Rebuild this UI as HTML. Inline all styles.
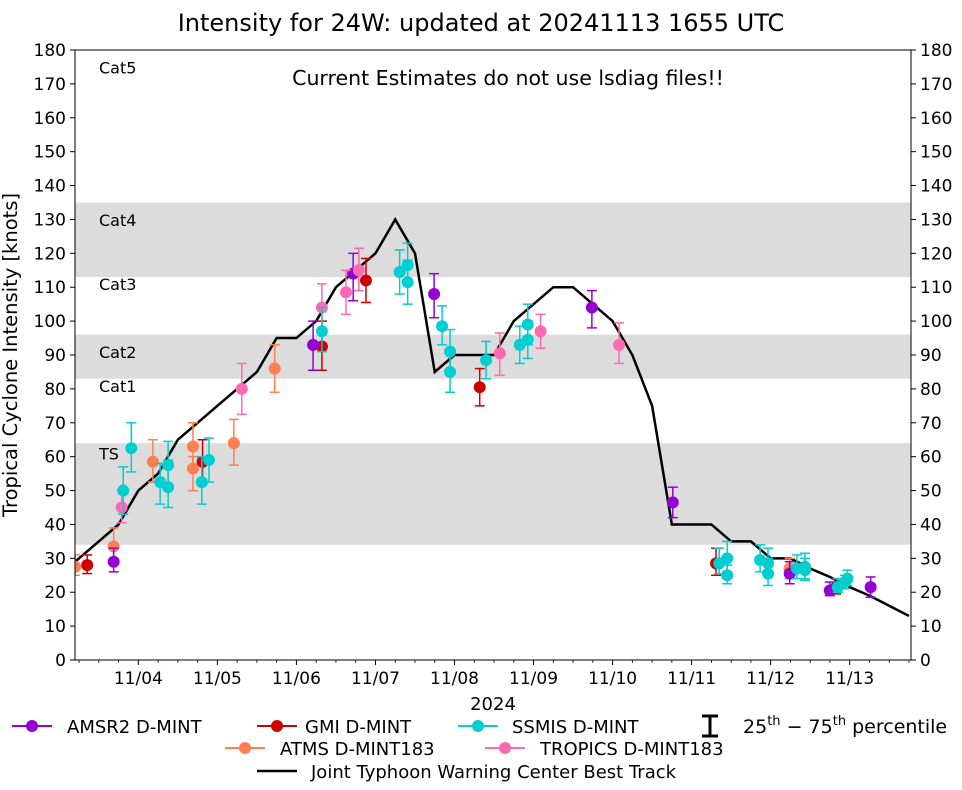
<!DOCTYPE html>
<html><head><meta charset="utf-8"><style>
body{margin:0;background:#fff;font-family:"Liberation Sans","DejaVu Sans",sans-serif}
svg text{font-family:"DejaVu Sans","Liberation Sans",sans-serif}
</style></head><body>
<svg id="chart" width="962" height="785" xmlns="http://www.w3.org/2000/svg"></svg>
<script>
const btDays=[0.0,0.25,0.75,1.0,1.25,1.5,1.75,2.0,2.25,2.5,2.75,3.0,3.25,3.5,3.75,4.0,4.25,4.5,4.75,5.0,5.25,5.5,5.75,6.0,6.25,6.5,6.75,7.0,7.25,7.5,7.75,8.0,8.25,8.5,8.75,9.0,9.25,9.5,9.75,10.0,10.25,10.5,10.75];
const btKts=[25,30,40,50,55,65,70,75,80,85,95,95,100,110,115,120,130,120,85,90,90,90,100,105,110,110,105,100,90,75,40,40,40,35,35,30,30,27,24.5,21.5,19,16,13];
const amsrDays=[0.688,3.211,3.718,4.742,6.738,7.762,9.241,9.748,10.265];
const amsrKts=[29,93,114,108,104,46.5,25.5,20.5,21.5];
const amsrLo=[26,85.5,106,101,98,42,22.5,19,18.5];
const amsrHi=[33,100,120,114,109,51,29,23,24.5];
const gmiDays=[0.353,1.813,3.323,3.880,5.319,8.309,9.829];
const gmiKts=[28,58.5,92.5,112,80.5,28.5,21.5];
const gmiLo=[25.5,52,85.5,105.5,75,25,19.5];
const gmiHi=[31,65,100,118.5,86,33,24];
const ssmisDays=[0.809,0.911,1.276,1.377,1.377,1.803,1.894,3.323,4.306,4.407,4.407,4.843,4.944,4.944,5.400,5.826,5.927,5.927,8.349,8.450,8.450,8.866,8.967,8.967,9.332,9.434,9.434,9.849,9.940,9.971];
const ssmisKts=[50,62.5,52.5,57.5,51,52.5,59,97,114.5,116.5,111.5,98.5,91,85,88.5,93,94.5,99,28.5,30,25,29.5,28.5,25.5,27,26.5,27.5,21.5,23,24];
const ssmisLo=[43,55.5,46,51.5,45,46,52.5,91,108,111,105,93,85,79,83,87.5,89,93,25.5,26,22.5,26,25,22,24,23.5,24,20,21,22];
const ssmisHi=[57,70,58,64.5,59,60,65.5,104,121,123,118,104.5,97.5,91,94,98.5,100,105,33,35,28,34,33,30,31,30,31.5,24,25,26.5];
const atmsDays=[0.201,0.688,1.184,1.691,1.691,2.208,2.725,9.241];
const atmsKts=[27.5,33.5,58.5,63,56.5,64,86,27];
const atmsLo=[25,28.5,52.5,56,50,57.5,79,24];
const atmsHi=[31,39,65,70,60,71,93,30];
const tropDays=[0.789,2.309,3.323,3.627,3.789,5.573,6.089,7.082];
const tropKts=[45,80,104,108.5,115,90.5,97,93];
const tropLo=[40.5,72.5,97,102,109,84,92,87.5];
const tropHi=[50,87.5,111,115,121.5,96.5,102,99.5];
const xTickLabels=["11/04","11/05","11/06","11/07","11/08","11/09","11/10","11/11","11/12","11/13"];
const yTicks=[0,10,20,30,40,50,60,70,80,90,100,110,120,130,140,150,160,170,180];
const bandLo=[34,83,113];const bandHi=[64,96,135];
const catNames=["Cat5","Cat4","Cat3","Cat2","Cat1","TS"];
const catKts=[174,129,110,90,80,60];

const L=75,R=911,T=50,B=660,D0=59.3,PD=79.04;
const X=d=>D0+d*PD, Y=k=>B-(k/180)*(B-T);
const svg=document.getElementById('chart');const NS="http://www.w3.org/2000/svg";
function mk(tag,attrs,parent,text){const e=document.createElementNS(NS,tag);for(const k in attrs)e.setAttribute(k,attrs[k]);if(text!==undefined)e.textContent=text;(parent||svg).appendChild(e);return e;}
const defs=mk('defs',{});const cp=mk('clipPath',{id:'clip'},defs);mk('rect',{x:L,y:T,width:R-L,height:B-T},cp);

for(let i=0;i<bandLo.length;i++){const r=mk('rect',{x:L,y:Y(bandHi[i]),width:R-L,height:Y(bandLo[i])-Y(bandHi[i]),fill:'#dcdcdc'});

}
for(let i=0;i<catNames.length;i++){const t=mk('text',{x:99,y:Y(catKts[i])+3,'font-size':16},svg,catNames[i]);

}
const note=mk('text',{x:508,y:85,'font-size':20.5,'text-anchor':'middle'},svg,'Current Estimates do not use lsdiag files!!');



const gp=mk('g',{'clip-path':'url(#clip)'});
const bt=mk('polyline',{points:btDays.map((d,i)=>X(d)+','+Y(btKts[i])).join(' '),fill:'none',stroke:'#000','stroke-width':2.5},gp);



function series(days,kts,lo,hi,color,name){const g=mk('g',{},gp);


for(let i=0;i<days.length;i++){const x=X(days[i]);
mk('line',{x1:x,x2:x,y1:Y(lo[i]),y2:Y(hi[i]),stroke:color,'stroke-width':1.5},g);
mk('line',{x1:x-5,x2:x+5,y1:Y(lo[i]),y2:Y(lo[i]),stroke:color,'stroke-width':1.5},g);
mk('line',{x1:x-5,x2:x+5,y1:Y(hi[i]),y2:Y(hi[i]),stroke:color,'stroke-width':1.5},g);
const c=mk('circle',{cx:x,cy:Y(kts[i]),r:6,fill:color},g);

}}
series(atmsDays,atmsKts,atmsLo,atmsHi,'#ff7f50','atms');
series(gmiDays,gmiKts,gmiLo,gmiHi,'#cc0000','gmi');
series(amsrDays,amsrKts,amsrLo,amsrHi,'#9400d3','amsr2');
series(tropDays,tropKts,tropLo,tropHi,'#ff69b4','tropics');
series(ssmisDays,ssmisKts,ssmisLo,ssmisHi,'#00ced1','ssmis');

const fr=mk('rect',{x:L,y:T,width:R-L,height:B-T,fill:'none',stroke:'#000','stroke-width':1});


yTicks.forEach(v=>{const y=Y(v);
mk('line',{x1:L-5,x2:L,y1:y,y2:y,stroke:'#000'});mk('line',{x1:R,x2:R+5,y1:y,y2:y,stroke:'#000'});
const a=mk('text',{x:L-9,y:y+6,'font-size':17,'text-anchor':'end'},svg,v);


const b=mk('text',{x:R+9,y:y+6,'font-size':17},svg,v);

});
for(let q=1;q<44;q++){const x=X(q/4);if(x<L||x>R||q%4===0)continue;mk('line',{x1:x,x2:x,y1:B,y2:B+3,stroke:'#000','stroke-width':0.8});}
xTickLabels.forEach((s,i)=>{const x=X(i+1);mk('line',{x1:x,x2:x,y1:B,y2:B+5,stroke:'#000'});
const t=mk('text',{x:x,y:B+24,'font-size':17,'text-anchor':'middle'},svg,s);

});
</script>
<svg style="position:absolute;left:0;top:0" width="962" height="785" xmlns="http://www.w3.org/2000/svg">
<text x="481" y="31" font-size="24" text-anchor="middle" font-family="DejaVu Sans,Liberation Sans,sans-serif">Intensity for 24W: updated at 20241113 1655 UTC</text>
<text transform="translate(17,355) rotate(-90)" font-size="19.5" text-anchor="middle" font-family="DejaVu Sans,Liberation Sans,sans-serif">Tropical Cyclone Intensity [knots]</text>
<text x="493" y="710" font-size="18" text-anchor="middle" font-family="DejaVu Sans,Liberation Sans,sans-serif">2024</text>
<g font-size="18" font-family="DejaVu Sans,Liberation Sans,sans-serif">
<g><line x1="12" x2="52" y1="726" y2="726" stroke="#9400d3" stroke-width="2"/><circle cx="32" cy="726" r="6" fill="#9400d3"/><text x="67" y="733">AMSR2 D-MINT</text></g>
<g><line x1="257" x2="297" y1="726" y2="726" stroke="#cc0000" stroke-width="2"/><circle cx="277" cy="726" r="6" fill="#cc0000"/><text x="305" y="733">GMI D-MINT</text></g>
<g><line x1="458" x2="498" y1="726" y2="726" stroke="#00ced1" stroke-width="2"/><circle cx="478" cy="726" r="6" fill="#00ced1"/><text x="512" y="733">SSMIS D-MINT</text></g>
<g><line x1="710" x2="710" y1="716" y2="736" stroke="#000" stroke-width="3"/><line x1="702" x2="718" y1="716" y2="716" stroke="#000" stroke-width="3"/><line x1="702" x2="718" y1="736" y2="736" stroke="#000" stroke-width="3"/><text x="743" y="733" font-size="19">25<tspan font-size="13" dy="-8">th</tspan><tspan dy="8"> − 75</tspan><tspan font-size="13" dy="-8">th</tspan><tspan dy="8"> percentile</tspan></text></g>
<g><line x1="225" x2="265" y1="748" y2="748" stroke="#ff7f50" stroke-width="2"/><circle cx="245" cy="748" r="6" fill="#ff7f50"/><text x="280" y="755">ATMS D-MINT183</text></g>
<g><line x1="485" x2="525" y1="748" y2="748" stroke="#ff69b4" stroke-width="2"/><circle cx="505" cy="748" r="6" fill="#ff69b4"/><text x="540" y="755">TROPICS D-MINT183</text></g>
<g><line x1="257" x2="297" y1="771" y2="771" stroke="#000" stroke-width="2.5"/><text x="311" y="778">Joint Typhoon Warning Center Best Track</text></g>
</g>
</svg>
</body></html>
